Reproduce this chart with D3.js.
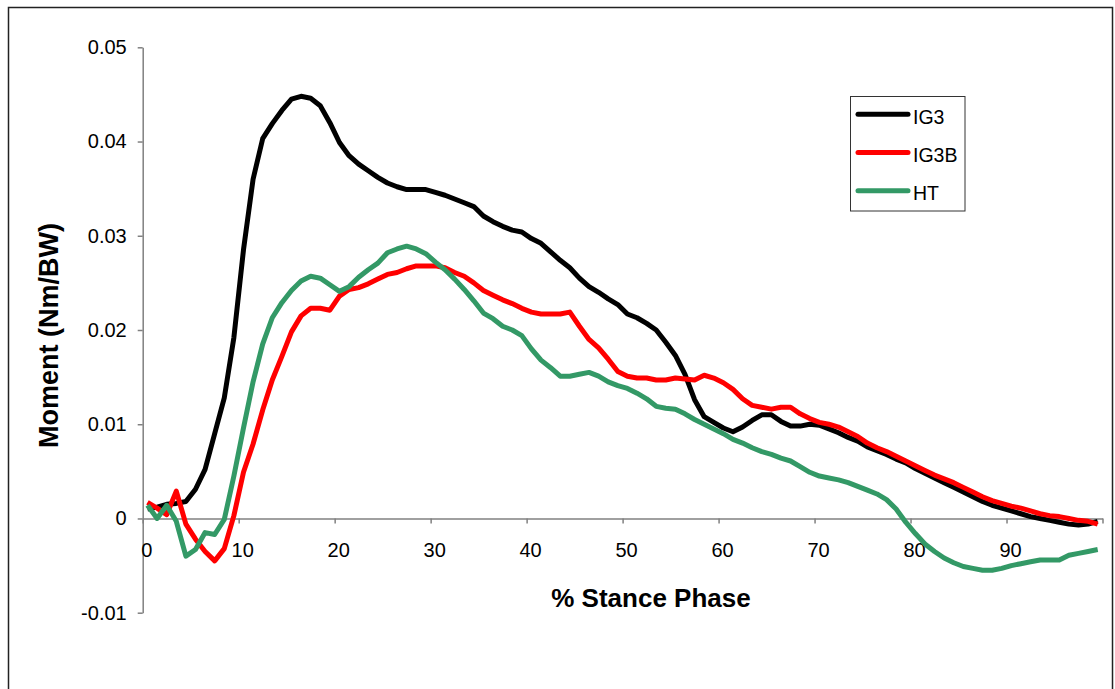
<!DOCTYPE html>
<html>
<head>
<meta charset="utf-8">
<script src="https://cdn.jsdelivr.net/npm/d3@7"></script>
<style>
  body { margin: 0; background: #fff; }
  svg { display: block; font-family: "Liberation Sans", Arial, sans-serif; }
</style>
</head>
<body>
<svg id="chart" width="1115" height="689"></svg>
<script>
// stance phase samples sit between the whole-percent ticks (100 samples)
const stance = d3.range(100).map(i => i + 0.5);

// moments in Nm/BW (x1000 for readability)
const ig3 = [
  1.0, 1.2, 1.5, 1.6, 1.8, 3.1, 5.2, 9.0, 12.8, 19.2,
  28.5, 36.0, 40.3, 41.9, 43.3, 44.5, 44.8, 44.6, 43.8, 42.0,
  39.9, 38.5, 37.6, 36.9, 36.2, 35.6, 35.2, 34.9, 34.9, 34.9,
  34.6, 34.3, 33.9, 33.5, 33.1, 32.1, 31.5, 31.0, 30.6, 30.4,
  29.7, 29.2, 28.3, 27.4, 26.6, 25.5, 24.6, 24.0, 23.3, 22.7,
  21.7, 21.3, 20.7, 20.0, 18.7, 17.3, 15.3, 12.6, 10.8, 10.2,
  9.6, 9.2, 9.7, 10.4, 11.0, 11.0, 10.3, 9.8, 9.8, 10.0,
  9.9, 9.5, 9.1, 8.6, 8.2, 7.6, 7.2, 6.8, 6.3, 5.9,
  5.3, 4.8, 4.3, 3.8, 3.3, 2.8, 2.3, 1.8, 1.4, 1.1,
  0.8, 0.5, 0.2, 0.0, -0.2, -0.4, -0.6, -0.7, -0.6, -0.3
];
const ig3b = [
  1.7, 1.1, 0.4, 2.9, -0.6, -2.2, -3.5, -4.5, -3.2, 0.3,
  4.9, 7.9, 11.5, 14.7, 17.2, 19.8, 21.5, 22.3, 22.3, 22.1,
  23.6, 24.3, 24.5, 24.9, 25.4, 25.9, 26.1, 26.5, 26.8, 26.8,
  26.8, 26.6, 26.1, 25.7, 25.0, 24.2, 23.7, 23.2, 22.8, 22.3,
  21.9, 21.7, 21.7, 21.7, 21.9, 20.4, 19.0, 18.1, 16.9, 15.6,
  15.1, 14.9, 14.9, 14.7, 14.7, 14.9, 14.8, 14.7, 15.2, 14.9,
  14.4, 13.7, 12.7, 12.0, 11.8, 11.6, 11.8, 11.8, 11.1, 10.6,
  10.2, 10.0, 9.7, 9.2, 8.7, 8.0, 7.5, 7.1, 6.6, 6.1,
  5.6, 5.1, 4.6, 4.2, 3.8, 3.3, 2.8, 2.3, 1.9, 1.6,
  1.3, 1.1, 0.8, 0.5, 0.3, 0.2, 0.0, -0.2, -0.3, -0.6
];
const ht = [
  1.4, 0.0, 1.4, -0.3, -4.0, -3.3, -1.5, -1.7, -0.1, 4.5,
  9.6, 14.5, 18.5, 21.3, 22.9, 24.2, 25.2, 25.7, 25.5, 24.8,
  24.1, 24.6, 25.6, 26.4, 27.1, 28.2, 28.6, 28.9, 28.6, 28.1,
  27.2, 26.4, 25.4, 24.3, 23.1, 21.8, 21.2, 20.4, 20.0, 19.4,
  18.0, 16.8, 16.0, 15.1, 15.1, 15.3, 15.5, 15.1, 14.5, 14.1,
  13.8, 13.3, 12.7, 11.9, 11.7, 11.6, 11.1, 10.5, 10.0, 9.5,
  9.0, 8.4, 8.0, 7.5, 7.1, 6.8, 6.4, 6.1, 5.5, 4.9,
  4.5, 4.3, 4.1, 3.8, 3.4, 3.0, 2.6, 2.0, 1.0, -0.4,
  -1.6, -2.7, -3.5, -4.2, -4.7, -5.1, -5.3, -5.5, -5.5, -5.3,
  -5.0, -4.8, -4.6, -4.4, -4.4, -4.4, -3.9, -3.7, -3.5, -3.3
];

const seriesNames = ["IG3", "IG3B", "HT"];
const seriesColors = ["#000000", "#ff0000", "#339966"];
const xTicks = [0, 10, 20, 30, 40, 50, 60, 70, 80, 90, 100];
const yTicks = [-0.01, 0, 0.01, 0.02, 0.03, 0.04, 0.05];

(() => {
    let svg = d3.select("svg#chart"),
        x = d3.scaleLinear().domain([0, 100]).range([142.7, 1102.5]),
        y = d3.scaleLinear().domain([-0.01, 0.05]).range([612.7, 47.3]),
        z = d3.scaleOrdinal().domain(seriesNames).range(seriesColors);

    let series = [ig3, ig3b, ht].map((vals, i) => ({
        name: seriesNames[i],
        points: vals.map((v, j) => ({ s: stance[j], m: v / 1000 }))
    }));

    // outer chart frame
    svg.append("rect")
        .attr("x", 8.5).attr("y", 7.5)
        .attr("width", 1104).attr("height", 700)
        .attr("fill", "none")
        .attr("stroke", "#222")
        .attr("stroke-width", 1.5);

    let yAxis = svg.append("g")
        .attr("transform", "translate(" + x(0) + ",0)")
        .call(d3.axisLeft(y)
            .tickValues(yTicks)
            .tickSize(5)
            .tickSizeOuter(0)
            .tickPadding(11)
            .tickFormat(d => d === 0 ? "0" : d.toFixed(2)));

    let xAxis = svg.append("g")
        .attr("transform", "translate(0," + y(0) + ")")
        .call(d3.axisBottom(x)
            .tickValues(xTicks)
            .tickSize(5)
            .tickSizeOuter(0)
            .tickPadding(19)
            .tickFormat(d => d === 100 ? "" : d));

    xAxis.selectAll("text").attr("dx", 3.5);

    [xAxis, yAxis].forEach(a => {
        a.selectAll("path, line")
            .attr("stroke", "#808080")
            .attr("stroke-width", 1.5);
        a.selectAll("text")
            .attr("fill", "#000")
            .style("font-size", "20px")
            .style("font-family", "'Liberation Sans', Arial, sans-serif");
    });

    let line = d3.line()
        .x(d => x(d.s))
        .y(d => y(d.m));

    svg.selectAll(".series")
        .data(series)
        .enter().append("path")
        .attr("class", "series")
        .attr("d", d => line(d.points))
        .attr("fill", "none")
        .attr("stroke", d => z(d.name))
        .attr("stroke-width", 5)
        .attr("stroke-linejoin", "round");

    svg.append("text")
        .attr("x", 651)
        .attr("y", 607)
        .attr("text-anchor", "middle")
        .style("font-size", "26px")
        .style("font-weight", "bold")
        .text("% Stance Phase");

    svg.append("text")
        .attr("transform", "translate(57.5,335.5) rotate(-90)")
        .attr("text-anchor", "middle")
        .style("font-size", "27px")
        .style("font-weight", "bold")
        .text("Moment (Nm/BW)");

    // legend
    let legendBox = svg.append("g");

    legendBox.append("rect")
        .attr("x", 850.5).attr("y", 96.5)
        .attr("width", 114.5).attr("height", 114.5)
        .attr("fill", "#fff")
        .attr("stroke", "#333")
        .attr("stroke-width", 1);

    let legend = legendBox.selectAll(".legend")
        .data(seriesNames)
        .enter().append("g")
        .attr("class", "legend")
        .attr("transform", (d, i) => "translate(0," + (114.3 + i * 38.2) + ")");

    legend.append("line")
        .attr("x1", 858).attr("x2", 908)
        .attr("stroke", z)
        .attr("stroke-width", 5)
        .attr("stroke-linecap", "round");

    legend.append("text")
        .attr("x", 913)
        .attr("y", 9.5)
        .style("font-size", "19.5px")
        .text(d => d);
})();
</script>
</body>
</html>
